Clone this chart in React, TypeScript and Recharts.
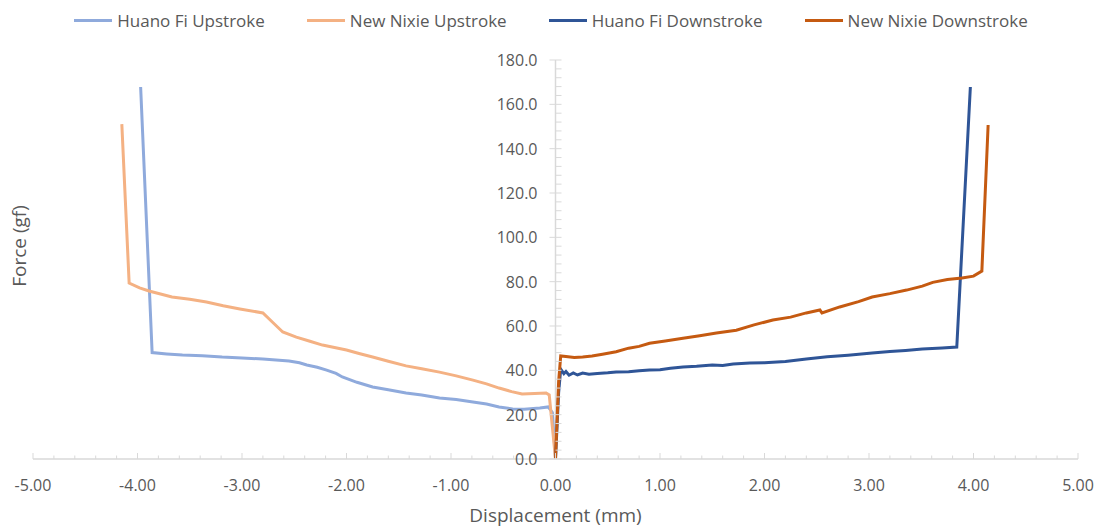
import { Legend, Line, LineChart, ReferenceLine, XAxis, YAxis } from "recharts";

// displacement (mm), force (gf) pairs
const huanoUpstroke: [number, number][] = [
  [-3.97, 167.8], [-3.86, 48.0], [-3.72, 47.4], [-3.57, 46.9], [-3.38, 46.6], [-3.19, 46.0],
  [-3.0, 45.6], [-2.8, 45.1], [-2.55, 44.2], [-2.45, 43.4], [-2.38, 42.4], [-2.28, 41.4],
  [-2.19, 40.1], [-2.1, 38.6], [-2.04, 37.0], [-1.9, 34.6], [-1.75, 32.5], [-1.6, 31.2],
  [-1.43, 29.8], [-1.28, 28.9], [-1.11, 27.5], [-0.95, 26.8], [-0.79, 25.7], [-0.66, 24.8],
  [-0.54, 23.5], [-0.41, 22.6], [-0.3, 22.4], [-0.15, 23.0], [-0.07, 23.5], [-0.03, 21.0],
  [0.0, 0.0],
];

const nixieUpstroke: [number, number][] = [
  [-4.15, 151.1], [-4.08, 79.4], [-3.98, 77.2], [-3.89, 75.8], [-3.67, 73.1], [-3.5, 72.1],
  [-3.34, 70.8], [-3.18, 69.1], [-3.02, 67.7], [-2.8, 65.9], [-2.71, 61.8], [-2.61, 57.3],
  [-2.48, 55.0], [-2.35, 53.1], [-2.23, 51.4], [-2.0, 49.2], [-1.88, 47.6], [-1.75, 46.0],
  [-1.6, 44.1], [-1.43, 42.0], [-1.28, 40.7], [-1.11, 39.2], [-0.95, 37.5], [-0.79, 35.6],
  [-0.66, 33.9], [-0.54, 32.0], [-0.42, 30.4], [-0.32, 29.3], [-0.2, 29.6], [-0.09, 29.8],
  [-0.06, 28.9], [0.0, 0.0],
];

const huanoDownstroke: [number, number][] = [
  [0.0, 0.0], [0.03, 30.0], [0.05, 40.5], [0.08, 38.5], [0.1, 39.5], [0.13, 37.8],
  [0.17, 38.8], [0.21, 37.9], [0.26, 38.8], [0.32, 38.2], [0.4, 38.6], [0.5, 38.9],
  [0.58, 39.3], [0.7, 39.4], [0.8, 39.8], [0.9, 40.2], [1.0, 40.3], [1.1, 40.9],
  [1.22, 41.5], [1.35, 41.8], [1.5, 42.4], [1.6, 42.2], [1.7, 42.9], [1.86, 43.3],
  [2.0, 43.4], [2.2, 44.0], [2.4, 45.1], [2.6, 46.1], [2.8, 46.8], [3.03, 47.8],
  [3.2, 48.5], [3.35, 49.0], [3.51, 49.6], [3.7, 50.1], [3.84, 50.5], [3.97, 167.8],
];

const nixieDownstroke: [number, number][] = [
  [0.0, 0.0], [0.03, 35.0], [0.05, 46.5], [0.1, 46.2], [0.18, 45.8], [0.26, 46.0],
  [0.35, 46.5], [0.45, 47.3], [0.58, 48.4], [0.7, 50.0], [0.8, 50.8], [0.9, 52.2],
  [1.05, 53.2], [1.22, 54.5], [1.38, 55.6], [1.54, 56.8], [1.73, 58.1], [1.9, 60.5],
  [2.08, 62.7], [2.25, 64.0], [2.4, 65.9], [2.53, 67.2], [2.55, 65.9], [2.72, 68.6],
  [2.9, 71.0], [3.03, 73.1], [3.2, 74.6], [3.36, 76.2], [3.51, 78.0], [3.61, 79.7],
  [3.75, 81.0], [3.89, 81.7], [4.0, 82.5], [4.08, 84.8], [4.14, 150.7],
];

const seriesNames = ["Huano Fi Upstroke", "New Nixie Upstroke", "Huano Fi Downstroke", "New Nixie Downstroke"];
const xMajorTicks = [-5, -4, -3, -2, -1, 0, 1, 2, 3, 4, 5];
const yMajorTicks = [0, 20, 40, 60, 80, 100, 120, 140, 160, 180];
const xMinorPerMajor = 5;
const yMinorPerMajor = 5;

const W = 1102;
const H = 527;
const PLOT_LEFT = 33;
const PLOT_RIGHT = 24;
const AXIS_X = PLOT_LEFT + (W - PLOT_LEFT - PLOT_RIGHT) / 2;
const AXIS_COLOR = "#d9d9d9";
const TEXT_COLOR = "#595959";
const FONT = "'Open Sans', 'Noto Sans', sans-serif";

const toRows = (pts: [number, number][]) => pts.map(([x, y]) => ({ x, y }));

const withMinors = (majors: number[], per: number) => {
  const out: number[] = [];
  for (let i = 0; i < majors.length - 1; i++) {
    const step = (majors[i + 1] - majors[i]) / per;
    for (let k = 0; k < per; k++) out.push(Math.round((majors[i] + k * step) * 100) / 100);
  }
  out.push(majors[majors.length - 1]);
  return out;
};

const xTicks = withMinors(xMajorTicks, xMinorPerMajor);
const yTicks = withMinors(yMajorTicks, yMinorPerMajor);

function XTick(props: any) {
  const { x, y, payload } = props;
  const v = payload.value as number;
  const major = xMajorTicks.includes(v);
  return (
    <g>
      <line x1={x} x2={x} y1={y - (major ? 6 : 3.5)} y2={y} stroke={AXIS_COLOR} strokeWidth={1} />
      {major && (
        <text x={x} y={y + 26} textAnchor="middle" dominantBaseline="central" fill={TEXT_COLOR} fontSize={16} fontFamily={FONT}>
          {v.toFixed(2)}
        </text>
      )}
    </g>
  );
}

function YTick(props: any) {
  const { y, payload } = props;
  const v = payload.value as number;
  const major = yMajorTicks.includes(v);
  return (
    <g>
      <line x1={AXIS_X - (major ? 6 : 0)} x2={AXIS_X + 6} y1={y} y2={y} stroke={AXIS_COLOR} strokeWidth={1} />
      {major && (
        <text x={AXIS_X - 18} y={y} textAnchor="end" dominantBaseline="central" fill={TEXT_COLOR} fontSize={16} fontFamily={FONT}>
          {v.toFixed(1)}
        </text>
      )}
    </g>
  );
}

function LegendContent(props: any) {
  const { payload = [] } = props;
  const items = seriesNames.map((n) => payload.find((p: any) => p.value === n)).filter(Boolean);
  return (
    <div style={{ height: 60, display: "flex", justifyContent: "center", alignItems: "flex-start" }}>
      <div style={{ height: 40, display: "flex", alignItems: "center", gap: 42 }}>
        {items.map((p: any) => (
          <div key={p.value} style={{ display: "flex", alignItems: "center" }}>
            <span style={{ display: "inline-block", width: 38, height: 3, background: p.color, marginRight: 5 }} />
            <span style={{ fontSize: 17, color: TEXT_COLOR, fontFamily: FONT }}>{p.value}</span>
          </div>
        ))}
      </div>
    </div>
  );
}

export default function App() {
  return (
    <div style={{ position: "absolute", left: 0, top: 0, width: W, height: H, background: "#fff", fontFamily: FONT }}>
      <LineChart width={W} height={H} margin={{ top: 0, right: PLOT_RIGHT, left: 0, bottom: 0 }}>
        <XAxis
          dataKey="x"
          type="number"
          domain={[-5, 5]}
          ticks={xTicks}
          interval={0}
          tickLine={false}
          tickSize={0}
          tickMargin={0}
          axisLine={{ stroke: AXIS_COLOR, strokeWidth: 1.5 }}
          tick={<XTick />}
          height={68}
          allowDataOverflow
          label={{
            content: (p: any) => {
              const vb = p.viewBox;
              return (
                <text x={vb.x + vb.width / 2} y={vb.y + 56} textAnchor="middle" dominantBaseline="central" fill={TEXT_COLOR} fontSize={19} fontFamily={FONT}>
                  Displacement (mm)
                </text>
              );
            },
          }}
        />
        <YAxis
          dataKey="y"
          type="number"
          domain={[0, 180]}
          ticks={yTicks}
          interval={0}
          width={PLOT_LEFT}
          axisLine={false}
          tickLine={false}
          tick={<YTick />}
          label={{
            content: () => (
              <text x={19} y={246} transform="rotate(-90 19 246)" textAnchor="middle" dominantBaseline="central" fill={TEXT_COLOR} fontSize={19} fontFamily={FONT}>
                Force (gf)
              </text>
            ),
          }}
        />
        <Legend verticalAlign="top" content={<LegendContent />} wrapperStyle={{ left: 0, width: W, top: 0 }} />
        <ReferenceLine x={0} stroke={AXIS_COLOR} strokeWidth={1.5} />
        <Line data={toRows(huanoUpstroke)} dataKey="y" name={seriesNames[0]} stroke="#8faadc" strokeWidth={3} dot={false} type="linear" isAnimationActive={false} />
        <Line data={toRows(nixieUpstroke)} dataKey="y" name={seriesNames[1]} stroke="#f4b183" strokeWidth={3} dot={false} type="linear" isAnimationActive={false} />
        <Line data={toRows(huanoDownstroke)} dataKey="y" name={seriesNames[2]} stroke="#2f5597" strokeWidth={3} dot={false} type="linear" isAnimationActive={false} />
        <Line data={toRows(nixieDownstroke)} dataKey="y" name={seriesNames[3]} stroke="#c55a11" strokeWidth={3} dot={false} type="linear" isAnimationActive={false} />
      </LineChart>
    </div>
  );
}
